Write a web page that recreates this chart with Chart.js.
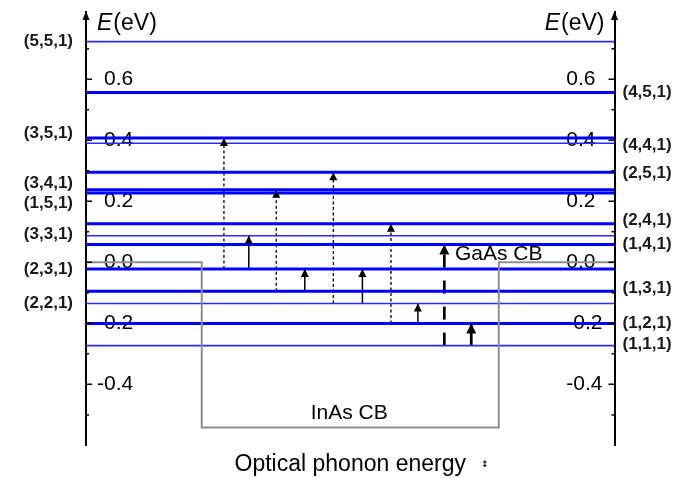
<!DOCTYPE html>
<html>
<head>
<meta charset="utf-8">
<script src="https://cdn.jsdelivr.net/npm/chart.js@4.4.1/dist/chart.umd.min.js"></script>
<style>
  html, body { margin: 0; padding: 0; background: #fff; }
  #wrap { width: 691px; height: 478px; }
</style>
</head>
<body>
<div id="wrap"><canvas id="chart01"></canvas></div>
<script>
// エネルギー準位 (eV)
var levelNames = ["(5,5,1)","(4,5,1)","(3,5,1)","(4,4,1)","(2,5,1)","(3,4,1)","(1,5,1)","(2,4,1)","(3,3,1)","(1,4,1)","(2,3,1)","(1,3,1)","(2,2,1)","(1,2,1)","(1,1,1)"];
var levelEnergies = [0.723,0.556,0.407,0.390,0.295,0.238,0.227,0.126,0.087,0.058,-0.022,-0.095,-0.135,-0.201,-0.273];
var levelThick = [false,true,true,false,true,true,true,true,false,true,true,true,false,true,false];
var levelSide = ["L","R","L","R","R","L","L","R","L","R","L","R","L","R","R"];

// 遷移の矢印 (x は 0-100 の位置)
var arrowX = [26.1,36.0,46.8,57.7,30.8,41.4,52.3,62.8,67.8,72.9];
var arrowFrom = [-0.022,-0.095,-0.135,-0.201,-0.022,-0.095,-0.135,-0.201,-0.273,-0.273];
var arrowTo = [0.407,0.238,0.295,0.126,0.087,-0.022,-0.022,-0.135,0.058,-0.201];
var arrowKind = ["dot","dot","dot","dot","thin","thin","thin","thin","dash","thick"];

// 伝導帯の井戸 (InAs CB)
var wellX = [0,21.9,21.9,78.1,78.1,100];
var wellE = [0,0,-0.541,-0.541,0,0];

// 目盛り
var yTickValues = [-0.5,-0.4,-0.3,-0.2,-0.1,0.0,0.1,0.2,0.3,0.4,0.5,0.6,0.7];
var yTickLabels = ["-0.4","-0.2","0.0","0.2","0.4","0.6"];

Chart.defaults.font.family = "'Liberation Sans', Arial, sans-serif";
Chart.defaults.color = '#000';

var labelNudge = [0,0,-5,2,1,-6,10,-4,-1,0,0,-3,0,0,-1]; // ラベルのずれ(px)

var datasets = [];
datasets.push({
  data: wellX.map(function (x, i) { return {x: x, y: wellE[i]}; }),
  borderColor: '#8e8e8e', borderWidth: 2
});
levelEnergies.forEach(function (e, i) {
  datasets.push({
    data: [{x: 0, y: e}, {x: 100, y: e}],
    borderColor: levelThick[i] ? '#0000ff' : '#2a2aff',
    borderWidth: levelThick[i] ? 3 : 1.6
  });
});
arrowX.forEach(function (x, i) {
  var k = arrowKind[i];
  var ds = {
    data: [{x: x, y: arrowFrom[i]}, {x: x, y: arrowTo[i]}],
    borderColor: '#000', borderWidth: 1.5, head: 8
  };
  if (k == 'dot') { ds.borderDash = [3, 2.5]; ds.borderWidth = 1.3; }
  if (k == 'dash') { ds.borderDash = [13, 13]; ds.borderWidth = 2.7; ds.head = 10; }
  if (k == 'thick') { ds.borderWidth = 2.7; ds.head = 10; }
  datasets.push(ds);
});

function tickLabel(v) {
  var s = (Math.abs(v) < 1e-9 ? 0 : v).toFixed(1);
  return yTickLabels.indexOf(s) >= 0 ? s : null;
}
function setTicks(scale) {
  scale.ticks = yTickValues.map(function (v) { return {value: v}; });
}
function noPad(scale) {
  scale.paddingTop = 0;
  scale.paddingBottom = 0;
}

var annotate = {
  id: 'annotate',
  afterDatasetsDraw: function (chart) {
    var ctx = chart.ctx;
    chart.data.datasets.forEach(function (ds, i) {
      if (!ds.head) return;
      var p = chart.getDatasetMeta(i).data[1];
      var h = ds.head;
      ctx.save();
      ctx.fillStyle = ds.borderColor;
      ctx.beginPath();
      ctx.moveTo(p.x, p.y);
      ctx.lineTo(p.x - h / 2, p.y + h);
      ctx.lineTo(p.x + h / 2, p.y + h);
      ctx.closePath();
      ctx.fill();
      ctx.restore();
    });
  },
  afterDraw: function (chart) {
    var ctx = chart.ctx;
    var a = chart.chartArea;
    var xs = chart.scales.x, ys = chart.scales.y;
    ctx.save();
    // 目盛り線（内向き）
    ctx.strokeStyle = '#000';
    ctx.lineWidth = 1.5;
    yTickValues.forEach(function (v) {
      var py = ys.getPixelForValue(v);
      var len = tickLabel(v) ? 6 : 3;
      ctx.beginPath();
      ctx.moveTo(a.left, py); ctx.lineTo(a.left + len, py);
      ctx.moveTo(a.right, py); ctx.lineTo(a.right - len, py);
      ctx.stroke();
    });
    // 軸の矢印
    ctx.fillStyle = '#000';
    [a.left, a.right].forEach(function (x) {
      ctx.beginPath();
      ctx.moveTo(x, a.top - 1);
      ctx.lineTo(x - 3.5, a.top + 8);
      ctx.lineTo(x + 3.5, a.top + 8);
      ctx.closePath();
      ctx.fill();
    });
    // E(eV)
    ctx.textBaseline = 'middle';
    ctx.textAlign = 'left';
    var ty = a.top + 12;
    ctx.font = "italic 23px 'Liberation Sans', Arial";
    var wE = ctx.measureText('E').width;
    ctx.font = "23px 'Liberation Sans', Arial";
    var wU = ctx.measureText('(eV)').width;
    [a.left + 11, a.right - 11 - wE - wU].forEach(function (x0) {
      ctx.font = "italic 23px 'Liberation Sans', Arial";
      ctx.fillText('E', x0, ty);
      ctx.font = "23px 'Liberation Sans', Arial";
      ctx.fillText('(eV)', x0 + wE + 1, ty);
    });
    // 準位のラベル
    ctx.font = "bold 17px 'Liberation Sans', Arial";
    ctx.fillStyle = '#1a1a1a';
    levelNames.forEach(function (n, i) {
      var py = ys.getPixelForValue(levelEnergies[i]) + labelNudge[i];
      if (levelSide[i] == 'L') {
        ctx.textAlign = 'right';
        ctx.fillText(n, a.left - 13, py);
      } else {
        ctx.textAlign = 'left';
        ctx.fillText(n, a.right + 8, py);
      }
    });
    // 帯の名前
    ctx.fillStyle = '#000';
    ctx.font = "21px 'Liberation Sans', Arial";
    ctx.textAlign = 'left';
    ctx.fillText('GaAs CB', xs.getPixelForValue(69.8), ys.getPixelForValue(0.028));
    ctx.textAlign = 'center';
    ctx.fillText('InAs CB', xs.getPixelForValue(49.8), ys.getPixelForValue(-0.495));
    ctx.font = "bold 9px 'DejaVu Sans'";
    ctx.fillText('\u2195', xs.getPixelForValue(75.5), a.bottom + 19);
    ctx.restore();
  }
};

var ctx = document.getElementById('chart01');
var chart = new Chart(ctx, {
  type: 'line',
  data: { datasets: datasets },
  plugins: [annotate],
  options: {
    responsive: true,
    maintainAspectRatio: false,
    animation: false,
    layout: { padding: { left: 64, right: 76.5, top: 12, bottom: 0 } },
    elements: { point: { radius: 0 }, line: { tension: 0, fill: false, borderCapStyle: 'butt' } },
    plugins: { legend: { display: false }, tooltip: { enabled: false } },
    scales: {
      x: {
        type: 'linear', min: 0, max: 100,
        grid: { display: false, drawTicks: false },
        border: { display: false },
        ticks: { display: false },
        title: { display: true, text: 'Optical phonon energy', font: { size: 23 }, padding: { top: 5, bottom: 0 } }
      },
      y: {
        position: 'left', min: -0.6, max: 0.82,
        afterBuildTicks: setTicks,
        afterFit: noPad,
        grid: { display: false, drawTicks: false },
        border: { display: true, color: '#000', width: 2 },
        ticks: { mirror: true, crossAlign: 'far', padding: 11, font: { size: 21 }, callback: tickLabel }
      },
      y2: {
        position: 'right', min: -0.6, max: 0.82,
        afterBuildTicks: setTicks,
        afterFit: noPad,
        grid: { display: false, drawTicks: false },
        border: { display: true, color: '#000', width: 2 },
        ticks: { mirror: true, crossAlign: 'far', padding: -12, font: { size: 21 }, callback: tickLabel }
      }
    }
  }
});
</script>
</body>
</html>
